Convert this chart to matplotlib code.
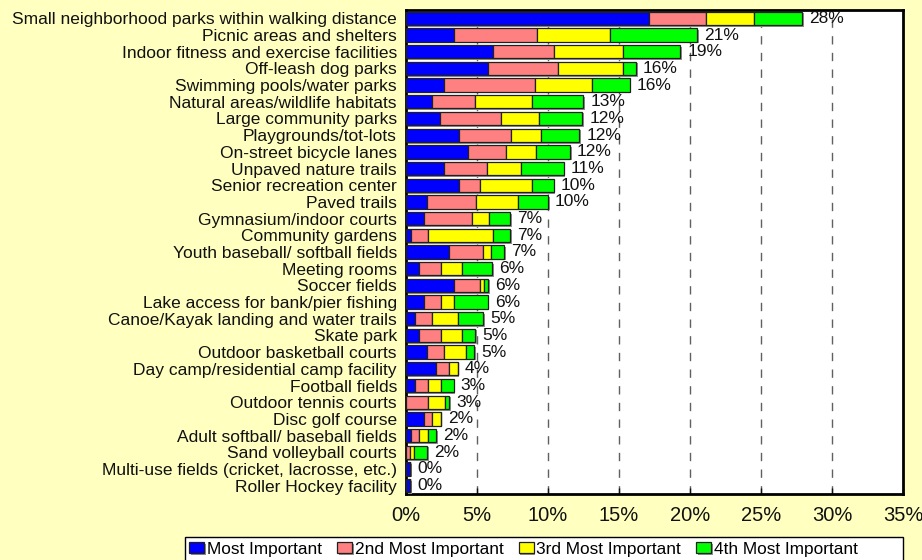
import matplotlib
matplotlib.use("Agg")
import numpy as np
import matplotlib.pyplot as plt
import matplotlib.patheffects as pe
from matplotlib.patches import Rectangle

plt.rcParams['font.family'] = ['Liberation Sans', 'DejaVu Sans']

categories = ['Small neighborhood parks within walking distance',
              'Picnic areas and shelters',
              'Indoor fitness and exercise facilities',
              'Off-leash dog parks',
              'Swimming pools/water parks',
              'Natural areas/wildlife habitats',
              'Large community parks',
              'Playgrounds/tot-lots',
              'On-street bicycle lanes',
              'Unpaved nature trails',
              'Senior recreation center',
              'Paved trails',
              'Gymnasium/indoor courts',
              'Community gardens',
              'Youth baseball/ softball fields',
              'Meeting rooms',
              'Soccer fields',
              'Lake access for bank/pier fishing',
              'Canoe/Kayak landing and water trails',
              'Skate park',
              'Outdoor basketball courts',
              'Day camp/residential camp facility',
              'Football fields',
              'Outdoor tennis courts',
              'Disc golf course',
              'Adult softball/ baseball fields',
              'Sand volleyball courts',
              'Multi-use fields (cricket, lacrosse, etc.)',
              'Roller Hockey facility']

most = [17.1, 3.4, 6.1, 5.8, 2.7, 1.85, 2.4, 3.7, 4.35, 2.7, 3.7, 1.5, 1.25, 0.35,
        3.05, 0.95, 3.4, 1.25, 0.65, 0.95, 1.5, 2.1, 0.65, 0.0, 1.25, 0.35, 0.0, 0.3, 0.3]
second = [4.0, 5.8, 4.3, 4.9, 6.4, 3.0, 4.3, 3.7, 2.7, 3.0, 1.5, 3.4, 3.4, 1.2,
          2.35, 1.5, 1.8, 1.2, 1.2, 1.5, 1.2, 0.95, 0.9, 1.55, 0.6, 0.6, 0.3, 0.0, 0.0]
third = [3.4, 5.2, 4.9, 4.6, 4.0, 4.0, 2.7, 2.1, 2.1, 2.4, 3.7, 3.0, 1.2, 4.6,
         0.6, 1.5, 0.3, 0.9, 1.8, 1.5, 1.5, 0.6, 0.9, 1.2, 0.6, 0.6, 0.3, 0.0, 0.0]
fourth = [3.4, 6.1, 4.0, 0.9, 2.65, 3.65, 3.0, 2.7, 2.4, 3.0, 1.5, 2.1, 1.5, 1.2,
          0.9, 2.1, 0.3, 2.4, 1.8, 0.9, 0.6, 0.0, 0.9, 0.3, 0.0, 0.6, 0.9, 0.0, 0.0]
total_labels = ['28%', '21%', '19%', '16%', '16%', '13%', '12%', '12%', '12%', '11%',
                '10%', '10%', '7%', '7%', '7%', '6%', '6%', '6%', '5%', '5%', '5%',
                '4%', '3%', '3%', '2%', '2%', '2%', '0%', '0%']

series_names = ['Most Important', '2nd Most Important', '3rd Most Important', '4th Most Important']
colors = ['#0000FF', '#FF8080', '#FFFF00', '#00FF00']
xticks = [0, 5, 10, 15, 20, 25, 30, 35]

bg = '#FFFFC0'
fig = plt.figure(figsize=(9.22, 5.6), dpi=100, facecolor=bg)
ax = fig.add_axes([0.4403, 0.1179, 0.5391, 0.8642])
ax.set_facecolor('white')

y = np.arange(len(categories))
left = np.zeros(len(categories))
shadow = [pe.SimplePatchShadow(offset=(1.2, -1.2), shadow_rgbFace='#909090', alpha=1), pe.Normal()]
for vals, name, col in zip([most, second, third, fourth], series_names, colors):
    vals = np.array(vals)
    bars = ax.barh(y, vals, left=left, height=0.8, color=col, edgecolor='#202020',
                   linewidth=0.9, label=name, zorder=3)
    for b in bars:
        if b.get_width() > 0:
            b.set_path_effects(shadow)
    left = left + vals

for yi, tot, lab in zip(y, left, total_labels):
    ax.text(tot + 0.5, yi, lab, va='center', ha='left', fontsize=12.5, color='#111111', zorder=4)

ax.set_xlim(0, 35)
ax.set_ylim(len(categories) - 0.5, -0.5)
ax.set_xticks(xticks)
ax.set_xticklabels([f'{t}%' for t in xticks], fontsize=14.5)
ax.set_yticks(y)
ax.set_yticklabels(categories, fontsize=12.5)
ax.tick_params(axis='x', direction='in', length=4, width=1, pad=9, colors='#111111')
ax.tick_params(axis='y', length=0, pad=6.5, colors='#111111')

for t in xticks[1:-1]:
    ax.axvline(t, color='#606060', linewidth=1, linestyle=(0, (6, 6)), zorder=1)

for s in ax.spines.values():
    s.set_linewidth(2)
    s.set_color('black')

# legend box, wider than the entries as in the original
fig.patches.append(Rectangle((185 / 922, -0.01), (903 - 185) / 922, 0.0511,
                             transform=fig.transFigure, facecolor='white',
                             edgecolor='black', linewidth=1, zorder=1))
leg = fig.legend(loc='center left', bbox_to_anchor=(189 / 922, 0.019), ncol=4, fontsize=12.4,
                 frameon=False, handlelength=0.87, handleheight=0.6, handletextpad=0.17,
                 columnspacing=0.87, borderpad=0, borderaxespad=0)
leg.set_zorder(2)

fig.savefig('out.png', dpi=100, facecolor=bg)
